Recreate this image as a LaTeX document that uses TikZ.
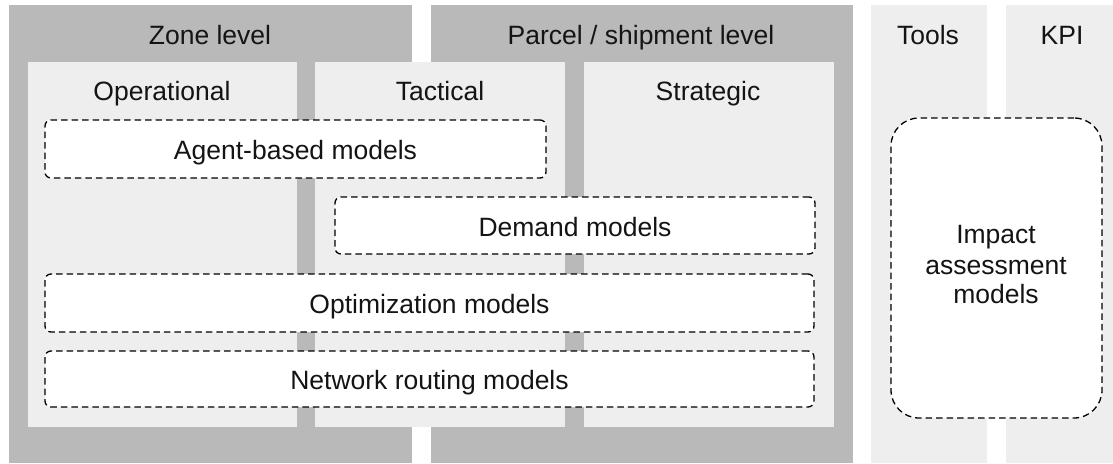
\documentclass[tikz,border=0pt]{standalone}
\usepackage{fontspec}
\setmainfont{Liberation Sans}
\definecolor{bandgray}{RGB}{185,185,185}
\definecolor{colgray}{RGB}{238,238,238}
\definecolor{txt}{RGB}{20,20,20}
\begin{document}
\begin{tikzpicture}[x=1pt,y=-1pt,
  lbl/.style={font=\fontsize{26.5}{30}\selectfont, text=txt, inner sep=0pt, anchor=base},
  bandbox/.style={fill=bandgray, draw=none, anchor=north west, inner sep=0pt, outer sep=0pt},
  colbox/.style={fill=colgray, draw=none, anchor=north west, inner sep=0pt, outer sep=0pt},
  modelbox/.style={draw=black, fill=white, line width=1.3pt, dash pattern=on 6.5pt off 4pt,
    rounded corners=6pt, anchor=north west, inner sep=0pt, outer sep=0pt},
  impactbox/.style={modelbox, rounded corners=28pt}
]
\useasboundingbox (0,0) rectangle (1113,463);
% bands
\node[bandbox, minimum width=403pt, minimum height=458pt] (zone) at (9,5) {};
\node[bandbox, minimum width=422pt, minimum height=458pt] (parcel) at (431,5) {};
\node[colbox, minimum width=116pt, minimum height=458pt] (tools) at (871,5) {};
\node[colbox, minimum width=110pt, minimum height=458pt] (kpi) at (1006,5) {};
% columns
\node[colbox, minimum width=269pt, minimum height=365pt] (oper) at (28,62) {};
\node[colbox, minimum width=250pt, minimum height=365pt] (tact) at (315,62) {};
\node[colbox, minimum width=250pt, minimum height=365pt] (strat) at (584,62) {};
% headers
\node[lbl] (zonelbl) at (210,44) {Zone level};
\node[lbl] (parcellbl) at (641,44) {Parcel / shipment level};
\node[lbl] (toolslbl) at (928,44) {Tools};
\node[lbl] (kpilbl) at (1062,44) {KPI};
\node[lbl] (operlbl) at (162,100) {Operational};
\node[lbl] (tactlbl) at (440,100) {Tactical};
\node[lbl] (stratlbl) at (708,100) {Strategic};
% model boxes
\node[modelbox, minimum width=501pt, minimum height=58pt] (agent) at (45,120) {};
\node[lbl] (agentlbl) at ([yshift=-10.5pt]agent.center) {Agent-based models};
\node[modelbox, minimum width=480pt, minimum height=57pt] (demand) at (335,197) {};
\node[lbl] (demandlbl) at ([yshift=-10.5pt]demand.center) {Demand models};
\node[modelbox, minimum width=769pt, minimum height=58pt] (optim) at (45,274) {};
\node[lbl] (optimlbl) at ([yshift=-10.5pt]optim.center) {Optimization models};
\node[modelbox, minimum width=769pt, minimum height=56pt] (network) at (45,351) {};
\node[lbl] (networklbl) at ([yshift=-10.5pt]network.center) {Network routing models};
\node[impactbox, minimum width=211pt, minimum height=300pt] (impact) at (891,118) {};
\node[lbl] (imp1) at (996,243.5) {Impact};
\node[lbl] (imp2) at (996,274) {assessment};
\node[lbl] (imp3) at (996,303.5) {models};
\end{tikzpicture}
\end{document}
